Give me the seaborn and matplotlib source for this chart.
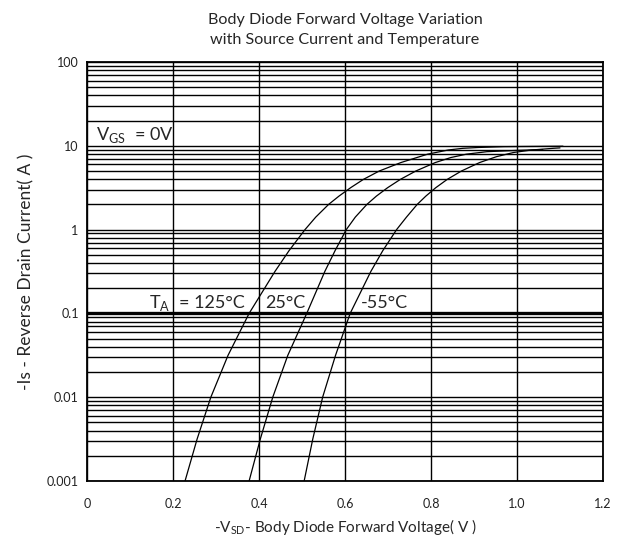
import numpy as np
import pandas as pd
import seaborn as sns
import matplotlib.pyplot as plt
from matplotlib.ticker import LogLocator, NullFormatter

# curves: forward voltage (V) vs source current (A)
v_125 = [0.228, 0.256, 0.288, 0.328, 0.377, 0.437, 0.470, 0.507, 0.532, 0.562, 0.586, 0.613, 0.643,
         0.680, 0.730, 0.792, 0.840, 0.874, 0.910, 0.970, 1.107]
i_125 = [0.001, 0.00316, 0.01, 0.0316, 0.1, 0.316, 0.562, 1.0, 1.41, 2.0, 2.51, 3.16, 3.98,
         5.01, 6.31, 7.94, 8.91, 9.33, 9.55, 9.77, 9.89]

v_25 = [0.377, 0.403, 0.432, 0.467, 0.511, 0.553, 0.577, 0.603, 0.624, 0.651, 0.673, 0.699, 0.729,
        0.765, 0.810, 0.846, 0.882, 0.930, 1.000, 1.060]
i_25 = [0.001, 0.00316, 0.01, 0.0316, 0.1, 0.316, 0.562, 1.0, 1.41, 2.0, 2.51, 3.16, 3.98,
        5.01, 6.31, 7.24, 7.94, 8.51, 8.81, 9.02]

v_m55 = [0.505, 0.525, 0.548, 0.578, 0.612, 0.660, 0.688, 0.720, 0.743, 0.768, 0.788, 0.811, 0.838,
         0.871, 0.913, 0.952, 0.992, 1.034, 1.084, 1.100]
i_m55 = [0.001, 0.00316, 0.01, 0.0316, 0.1, 0.316, 0.562, 1.0, 1.41, 2.0, 2.51, 3.16, 3.98,
         5.01, 6.31, 7.41, 8.32, 8.91, 9.33, 9.44]

x_ticks = [0, 0.2, 0.4, 0.6, 0.8, 1.0, 1.2]
x_labels = ['0', '0.2', '0.4', '0.6', '0.8', '1.0', '1.2']
y_ticks = [0.001, 0.01, 0.1, 1, 10, 100]
y_labels = ['0.001', '0.01', '0.1', '1', '10', '100']

sns.set_style('white')
plt.rcParams['font.family'] = ['Lato', 'DejaVu Sans']
plt.rcParams['mathtext.fontset'] = 'custom'
plt.rcParams['mathtext.rm'] = 'Lato'

fig = plt.figure(figsize=(6.24, 5.39), dpi=100)
ax = fig.add_axes([87 / 624, 1 - 481 / 539, (603 - 87) / 624, (481 - 62) / 539])

for v, i in [(v_125, i_125), (v_25, i_25), (v_m55, i_m55)]:
    df = pd.DataFrame({'v': v, 'i': i})
    sns.lineplot(x='v', y='i', data=df, sort=False, color='black', lw=0.9, ax=ax, zorder=3)

ax.set_yscale('log')
ax.set_xlim(0, 1.2)
ax.set_ylim(0.001, 100)

ax.set_xticks(x_ticks)
ax.set_xticklabels(x_labels)
ax.set_yticks(y_ticks)
ax.set_yticklabels(y_labels)
ax.yaxis.set_minor_locator(LogLocator(base=10, subs=np.arange(2, 10)))
ax.yaxis.set_minor_formatter(NullFormatter())
ax.tick_params(which='both', length=0, labelsize=9, colors='#222222')
ax.tick_params(axis='x', pad=12)
ax.tick_params(axis='y', pad=6)

ax.grid(axis='x', which='major', color='black', lw=1.0)
ax.grid(axis='y', which='both', color='black', lw=1.0)
ax.axhline(0.1, color='black', lw=2.4)
for s in ax.spines.values():
    s.set_color('black')
    s.set_linewidth(1.3)

ax.set_xlabel(r'-V$_{\mathregular{SD}}$- Body Diode Forward Voltage( V )', fontsize=11, labelpad=5)
ax.set_ylabel('-Is - Reverse Drain Current( A )', fontsize=12.5, labelpad=9)
fig.text(345 / 624, 1 - 30 / 539, 'Body Diode Forward Voltage Variation\nwith Source Current and Temperature',
         ha='center', va='center', fontsize=11.6, linespacing=1.5)

ax.text(0.022, 11.7, r'V$_{\mathregular{GS}}$  = 0V', fontsize=13, va='baseline')
ax.text(0.194, 0.117, r'T$_{\mathregular{A}}$', fontsize=13, va='baseline', ha='right')
ax.text(0.213, 0.117, '= 125°C', fontsize=13, va='baseline')
ax.text(0.414, 0.117, '25°C', fontsize=13, va='baseline')
ax.text(0.637, 0.117, '-55°C', fontsize=13, va='baseline')

plt.savefig('out.png', dpi=100)
